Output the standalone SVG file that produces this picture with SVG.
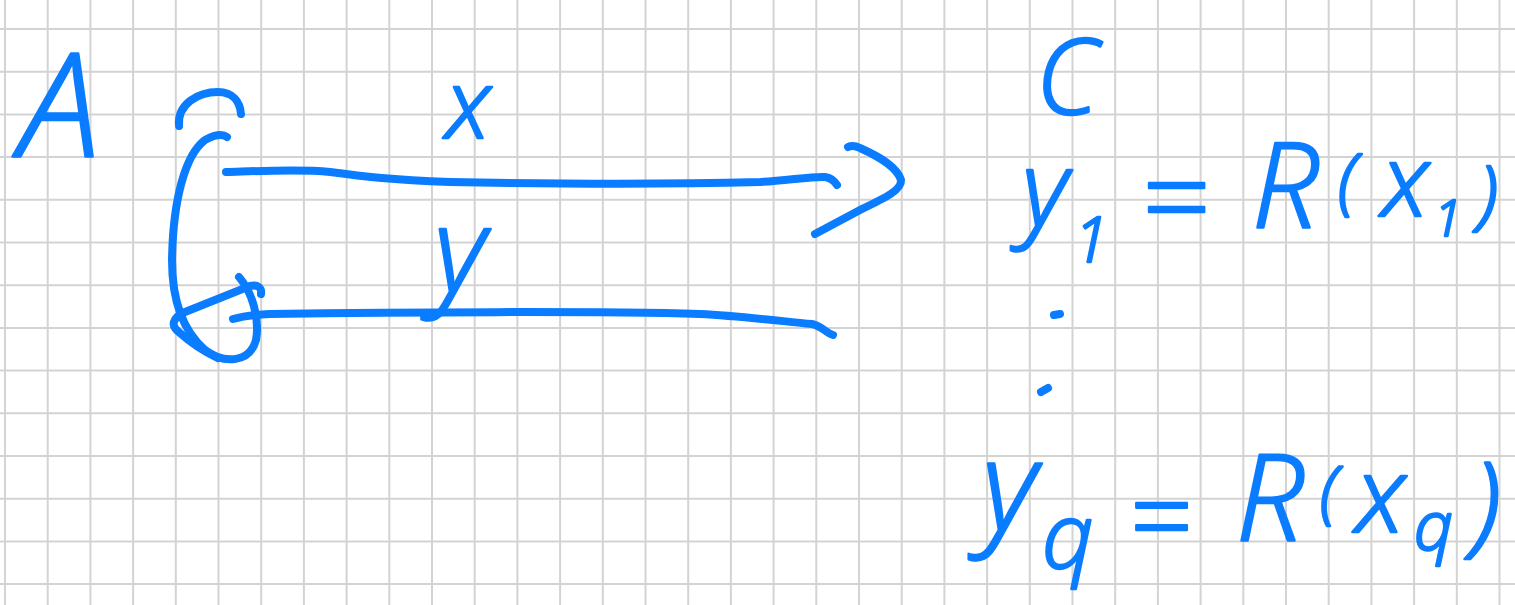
<svg xmlns="http://www.w3.org/2000/svg" width="1515" height="605" viewBox="0 0 1515 605">
<style>
.grid{fill:none;stroke:#d3d3d3;stroke-width:2}
.ink{fill:none;stroke:#0a7cff;stroke-width:8;stroke-linecap:round;stroke-linejoin:round}
.hw{fill:#0a7cff;stroke:#0a7cff;stroke-width:2.5;stroke-linejoin:round;font-family:"Open Sans","Liberation Sans",Arial,sans-serif;font-style:italic;font-weight:300}
</style>
<rect width="1515" height="605" fill="#ffffff"/>
<path class="grid" d="M5,0V605M47.7,0V605M90.4,0V605M133.1,0V605M175.8,0V605M218.5,0V605M261.2,0V605M303.9,0V605M346.6,0V605M389.3,0V605M432,0V605M474.7,0V605M517.4,0V605M560.1,0V605M602.8,0V605M645.5,0V605M688.2,0V605M730.9,0V605M773.6,0V605M816.3,0V605M859,0V605M901.7,0V605M944.4,0V605M987.1,0V605M1029.8,0V605M1072.5,0V605M1115.2,0V605M1157.9,0V605M1200.6,0V605M1243.3,0V605M1286,0V605M1328.7,0V605M1371.4,0V605M1414.1,0V605M1456.8,0V605M1499.5,0V605M0,29H1515M0,71.7H1515M0,114.4H1515M0,157.1H1515M0,199.8H1515M0,242.5H1515M0,285.2H1515M0,327.9H1515M0,370.6H1515M0,413.3H1515M0,456H1515M0,498.7H1515M0,541.4H1515M0,584.1H1515"/>
<g id="connectors">
<path class="ink" d="M179,126 C177,104 198,92 218,92 C233,92 240,102 241,114"/>
<path class="ink" d="M227,137 Q220,132 205,140 C185,155 173,200 172,260 C172,300 182,330 205,350 C225,365 250,362 256,340 C260,318 252,292 239,277"/>
<path class="ink" d="M261,294 C262,288 258,284 250,286 L185,312 C172,318 170,326 180,333 C190,342 205,352 218,358"/>
<path class="ink" d="M226,172 C260,171 300,169 330,172 C360,176 390,180 450,182 C560,184 680,184 760,182 C790,180 815,176 825,177 C832,178 835,182 837,185"/>
<path class="ink" d="M848,147 C852,145 856,146 860,148 C880,157 897,167 901,180 C902,190 885,198 860,210 L815,234"/>
<path class="ink" d="M233,319 C240,317 248,315 270,314 C400,312 600,311 700,314 C740,316 780,321 812,324 C822,326 826,333 833,335"/>
</g>
<g id="node-A"><text class="hw" x="20" y="156" font-size="144">A</text></g>
<g id="label-x"><text class="hw" x="446" y="138" font-size="95">x</text></g>
<g id="label-y"><text class="hw" x="434" y="292" font-size="118">y</text></g>
<g id="node-C"><text class="hw" x="1036" y="114" font-size="105">C</text></g>
<g id="eq-1"><text class="hw"><tspan x="1022" y="226" font-size="105">y</tspan><tspan x="1074" y="262" font-size="62">1</tspan> <tspan x="1140" y="240" font-size="120">=</tspan> <tspan x="1252" y="228" font-size="118">R</tspan><tspan x="1338" y="206" font-size="72">(</tspan><tspan x="1382" y="216" font-size="100">x</tspan><tspan x="1434" y="236" font-size="50">1</tspan><tspan x="1478" y="220" font-size="76">)</tspan></text></g>
<g id="ellipsis">
<path class="ink" d="M1054,315 L1060,314"/>
<path class="ink" d="M1041,392 L1048,388"/>
</g>
<g id="eq-q"><text class="hw"><tspan x="982" y="530" font-size="125">y</tspan><tspan x="1042" y="568" font-size="90">q</tspan> <tspan x="1128" y="556" font-size="110">=</tspan> <tspan x="1236" y="540" font-size="120">R</tspan><tspan x="1320" y="515" font-size="68">(</tspan><tspan x="1356" y="532" font-size="105">x</tspan><tspan x="1414" y="550" font-size="68">q</tspan><tspan x="1472" y="541" font-size="110">)</tspan></text></g>
</svg>
